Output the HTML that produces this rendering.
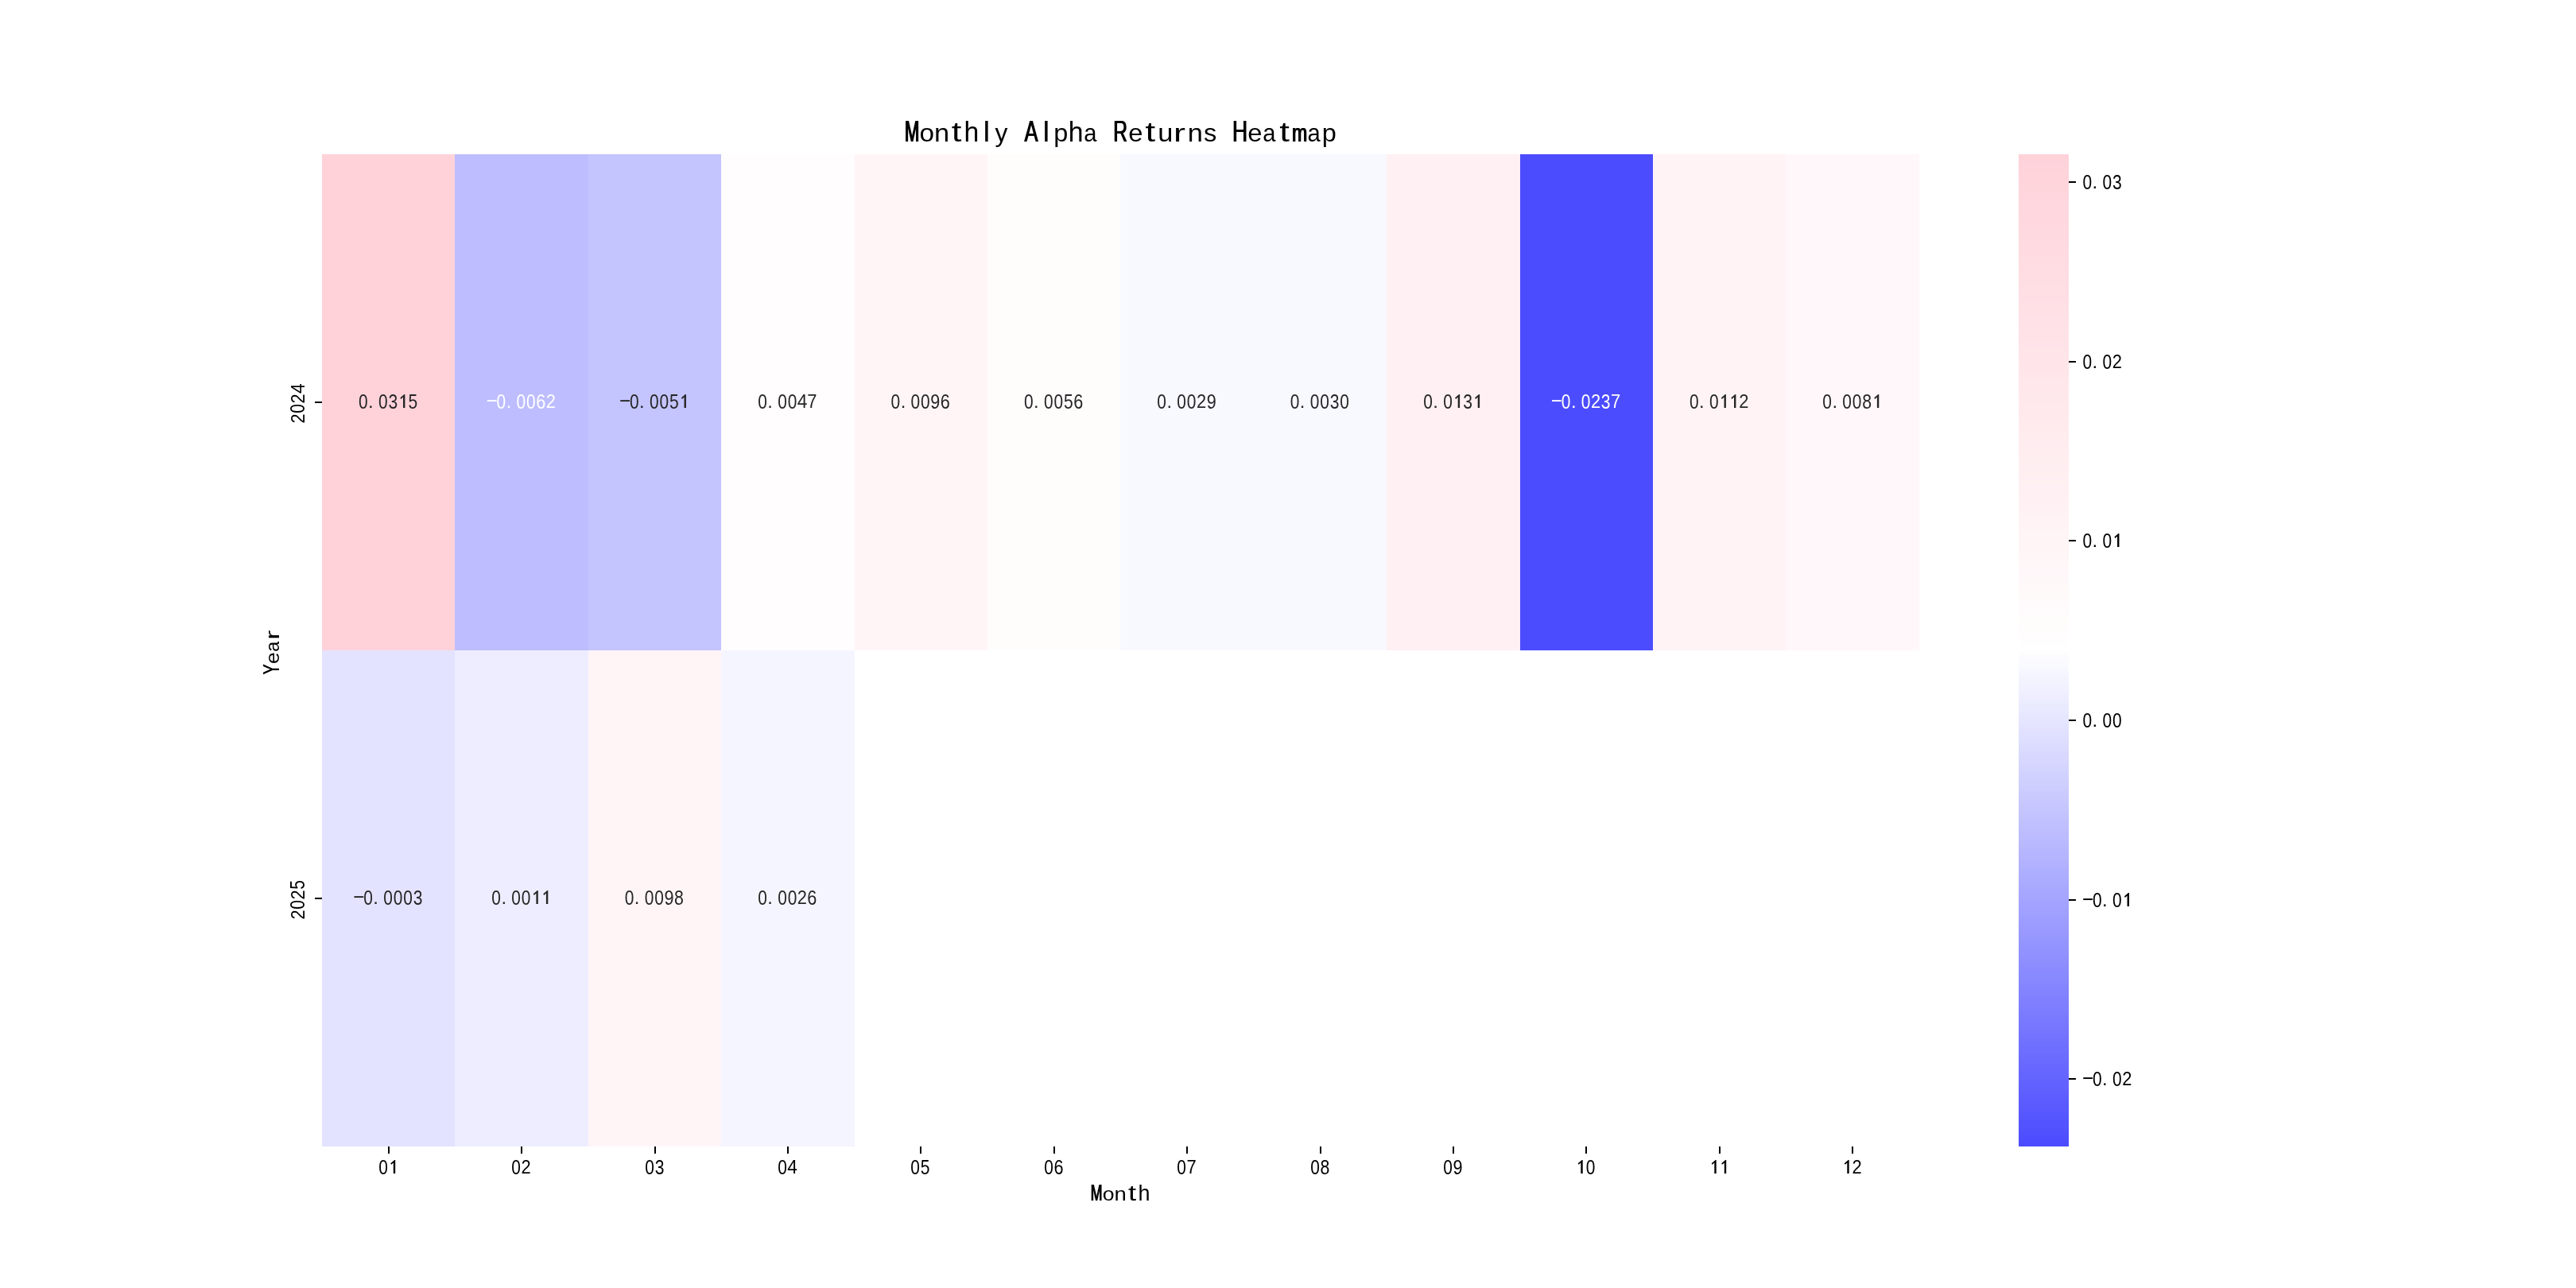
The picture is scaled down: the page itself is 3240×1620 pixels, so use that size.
<!DOCTYPE html>
<html><head><meta charset="utf-8"><title>Monthly Alpha Returns Heatmap</title>
<style>
html,body{margin:0;padding:0;background:#fff;}
body{width:3240px;height:1620px;overflow:hidden;}
svg{display:block;font-family:"Liberation Sans",sans-serif;will-change:transform;}
</style></head><body>
<svg width="3240" height="1620" viewBox="0 0 3240 1620">
<rect width="3240" height="1620" fill="#fff"/>
<rect x="405" y="194" width="167" height="624" fill="#ffd2da"/>
<rect x="572" y="194" width="168" height="624" fill="#bdbdff"/>
<rect x="740" y="194" width="167" height="624" fill="#c4c4ff"/>
<rect x="907" y="194" width="168" height="624" fill="#fffdfe"/>
<rect x="1075" y="194" width="167" height="624" fill="#fff5f7"/>
<rect x="1242" y="194" width="167" height="624" fill="#fffcfc"/>
<rect x="1409" y="194" width="168" height="624" fill="#f8f8ff"/>
<rect x="1577" y="194" width="167" height="624" fill="#f8f8ff"/>
<rect x="1744" y="194" width="168" height="624" fill="#fff0f3"/>
<rect x="1912" y="194" width="167" height="624" fill="#4c4cff"/>
<rect x="2079" y="194" width="167" height="624" fill="#fff3f5"/>
<rect x="2246" y="194" width="168" height="624" fill="#fff7f9"/>
<rect x="405" y="818" width="167" height="624" fill="#e3e3ff"/>
<rect x="572" y="818" width="168" height="624" fill="#ededff"/>
<rect x="740" y="818" width="167" height="624" fill="#fff5f7"/>
<rect x="907" y="818" width="168" height="624" fill="#f5f5ff"/>
<g shape-rendering="crispEdges"><rect x="2539" y="194" width="63" height="10" fill="#ffd2da"/><rect x="2539" y="204" width="63" height="10" fill="#ffd3db"/><rect x="2539" y="214" width="63" height="15" fill="#ffd4db"/><rect x="2539" y="229" width="63" height="4" fill="#ffd4dc"/><rect x="2539" y="233" width="63" height="5" fill="#ffd5dc"/><rect x="2539" y="238" width="63" height="5" fill="#ffd5dd"/><rect x="2539" y="243" width="63" height="10" fill="#ffd6dd"/><rect x="2539" y="253" width="63" height="19" fill="#ffd7de"/><rect x="2539" y="272" width="63" height="10" fill="#ffd8df"/><rect x="2539" y="282" width="63" height="5" fill="#ffd9df"/><rect x="2539" y="287" width="63" height="15" fill="#ffd9e0"/><rect x="2539" y="302" width="63" height="9" fill="#ffdae0"/><rect x="2539" y="311" width="63" height="10" fill="#ffdbe1"/><rect x="2539" y="321" width="63" height="10" fill="#ffdbe2"/><rect x="2539" y="331" width="63" height="10" fill="#ffdce2"/><rect x="2539" y="341" width="63" height="4" fill="#ffdde2"/><rect x="2539" y="345" width="63" height="5" fill="#ffdde3"/><rect x="2539" y="350" width="63" height="10" fill="#ffdee3"/><rect x="2539" y="360" width="63" height="10" fill="#ffdee4"/><rect x="2539" y="370" width="63" height="10" fill="#ffdfe5"/><rect x="2539" y="380" width="63" height="14" fill="#ffe0e5"/><rect x="2539" y="394" width="63" height="5" fill="#ffe0e6"/><rect x="2539" y="399" width="63" height="5" fill="#ffe1e6"/><rect x="2539" y="404" width="63" height="5" fill="#ffe1e7"/><rect x="2539" y="409" width="63" height="19" fill="#ffe2e7"/><rect x="2539" y="428" width="63" height="10" fill="#ffe3e8"/><rect x="2539" y="438" width="63" height="5" fill="#ffe4e8"/><rect x="2539" y="443" width="63" height="5" fill="#ffe4e9"/><rect x="2539" y="448" width="63" height="19" fill="#ffe5e9"/><rect x="2539" y="467" width="63" height="10" fill="#ffe6ea"/><rect x="2539" y="477" width="63" height="15" fill="#ffe7eb"/><rect x="2539" y="492" width="63" height="5" fill="#ffe7ec"/><rect x="2539" y="497" width="63" height="9" fill="#ffe8ec"/><rect x="2539" y="506" width="63" height="5" fill="#ffe9ec"/><rect x="2539" y="511" width="63" height="15" fill="#ffe9ed"/><rect x="2539" y="526" width="63" height="9" fill="#ffeaee"/><rect x="2539" y="535" width="63" height="10" fill="#ffebee"/><rect x="2539" y="545" width="63" height="5" fill="#ffecee"/><rect x="2539" y="550" width="63" height="10" fill="#ffecef"/><rect x="2539" y="560" width="63" height="5" fill="#ffecf0"/><rect x="2539" y="565" width="63" height="9" fill="#ffedf0"/><rect x="2539" y="574" width="63" height="10" fill="#ffeef0"/><rect x="2539" y="584" width="63" height="10" fill="#ffeef1"/><rect x="2539" y="594" width="63" height="5" fill="#ffeff1"/><rect x="2539" y="599" width="63" height="5" fill="#ffeff2"/><rect x="2539" y="604" width="63" height="5" fill="#fff0f2"/><rect x="2539" y="609" width="63" height="19" fill="#fff0f3"/><rect x="2539" y="628" width="63" height="5" fill="#fff1f3"/><rect x="2539" y="633" width="63" height="5" fill="#fff1f4"/><rect x="2539" y="638" width="63" height="5" fill="#fff2f4"/><rect x="2539" y="643" width="63" height="5" fill="#fff2f5"/><rect x="2539" y="648" width="63" height="19" fill="#fff3f5"/><rect x="2539" y="667" width="63" height="10" fill="#fff4f6"/><rect x="2539" y="677" width="63" height="5" fill="#fff5f6"/><rect x="2539" y="682" width="63" height="14" fill="#fff5f7"/><rect x="2539" y="696" width="63" height="10" fill="#fff6f7"/><rect x="2539" y="706" width="63" height="10" fill="#fff7f8"/><rect x="2539" y="716" width="63" height="10" fill="#fff7f9"/><rect x="2539" y="726" width="63" height="4" fill="#fff8f9"/><rect x="2539" y="730" width="63" height="5" fill="#fff8fa"/><rect x="2539" y="735" width="63" height="10" fill="#fff9fa"/><rect x="2539" y="745" width="63" height="10" fill="#fffafa"/><rect x="2539" y="755" width="63" height="10" fill="#fffafb"/><rect x="2539" y="765" width="63" height="9" fill="#fffbfc"/><rect x="2539" y="774" width="63" height="15" fill="#fffcfc"/><rect x="2539" y="789" width="63" height="5" fill="#fffcfd"/><rect x="2539" y="794" width="63" height="5" fill="#fffdfd"/><rect x="2539" y="799" width="63" height="4" fill="#fffdfe"/><rect x="2539" y="803" width="63" height="10" fill="#fffefe"/><rect x="2539" y="813" width="63" height="5" fill="#ffffff"/><rect x="2539" y="818" width="63" height="5" fill="#fefeff"/><rect x="2539" y="823" width="63" height="5" fill="#fcfcff"/><rect x="2539" y="828" width="63" height="5" fill="#fbfbff"/><rect x="2539" y="833" width="63" height="5" fill="#fafaff"/><rect x="2539" y="838" width="63" height="4" fill="#f8f8ff"/><rect x="2539" y="842" width="63" height="5" fill="#f7f7ff"/><rect x="2539" y="847" width="63" height="5" fill="#f5f5ff"/><rect x="2539" y="852" width="63" height="5" fill="#f4f4ff"/><rect x="2539" y="857" width="63" height="5" fill="#f3f3ff"/><rect x="2539" y="862" width="63" height="5" fill="#f1f1ff"/><rect x="2539" y="867" width="63" height="5" fill="#f0f0ff"/><rect x="2539" y="872" width="63" height="5" fill="#eeeeff"/><rect x="2539" y="877" width="63" height="4" fill="#ededff"/><rect x="2539" y="881" width="63" height="5" fill="#ececff"/><rect x="2539" y="886" width="63" height="5" fill="#eaeaff"/><rect x="2539" y="891" width="63" height="5" fill="#e9e9ff"/><rect x="2539" y="896" width="63" height="5" fill="#e7e7ff"/><rect x="2539" y="901" width="63" height="5" fill="#e6e6ff"/><rect x="2539" y="906" width="63" height="5" fill="#e5e5ff"/><rect x="2539" y="911" width="63" height="5" fill="#e3e3ff"/><rect x="2539" y="916" width="63" height="4" fill="#e2e2ff"/><rect x="2539" y="920" width="63" height="5" fill="#e0e0ff"/><rect x="2539" y="925" width="63" height="5" fill="#dfdfff"/><rect x="2539" y="930" width="63" height="5" fill="#dedeff"/><rect x="2539" y="935" width="63" height="5" fill="#dcdcff"/><rect x="2539" y="940" width="63" height="5" fill="#dbdbff"/><rect x="2539" y="945" width="63" height="5" fill="#d9d9ff"/><rect x="2539" y="950" width="63" height="5" fill="#d8d8ff"/><rect x="2539" y="955" width="63" height="4" fill="#d7d7ff"/><rect x="2539" y="959" width="63" height="5" fill="#d5d5ff"/><rect x="2539" y="964" width="63" height="5" fill="#d4d4ff"/><rect x="2539" y="969" width="63" height="5" fill="#d2d2ff"/><rect x="2539" y="974" width="63" height="5" fill="#d1d1ff"/><rect x="2539" y="979" width="63" height="5" fill="#d0d0ff"/><rect x="2539" y="984" width="63" height="5" fill="#ceceff"/><rect x="2539" y="989" width="63" height="5" fill="#cdcdff"/><rect x="2539" y="994" width="63" height="4" fill="#cbcbff"/><rect x="2539" y="998" width="63" height="5" fill="#cacaff"/><rect x="2539" y="1003" width="63" height="5" fill="#c9c9ff"/><rect x="2539" y="1008" width="63" height="5" fill="#c7c7ff"/><rect x="2539" y="1013" width="63" height="5" fill="#c6c6ff"/><rect x="2539" y="1018" width="63" height="5" fill="#c4c4ff"/><rect x="2539" y="1023" width="63" height="5" fill="#c3c3ff"/><rect x="2539" y="1028" width="63" height="4" fill="#c2c2ff"/><rect x="2539" y="1032" width="63" height="5" fill="#c0c0ff"/><rect x="2539" y="1037" width="63" height="5" fill="#bfbfff"/><rect x="2539" y="1042" width="63" height="5" fill="#bdbdff"/><rect x="2539" y="1047" width="63" height="5" fill="#bcbcff"/><rect x="2539" y="1052" width="63" height="5" fill="#bbbbff"/><rect x="2539" y="1057" width="63" height="5" fill="#b9b9ff"/><rect x="2539" y="1062" width="63" height="5" fill="#b8b8ff"/><rect x="2539" y="1067" width="63" height="4" fill="#b6b6ff"/><rect x="2539" y="1071" width="63" height="5" fill="#b5b5ff"/><rect x="2539" y="1076" width="63" height="5" fill="#b4b4ff"/><rect x="2539" y="1081" width="63" height="5" fill="#b2b2ff"/><rect x="2539" y="1086" width="63" height="5" fill="#b1b1ff"/><rect x="2539" y="1091" width="63" height="5" fill="#afafff"/><rect x="2539" y="1096" width="63" height="5" fill="#aeaeff"/><rect x="2539" y="1101" width="63" height="5" fill="#adadff"/><rect x="2539" y="1106" width="63" height="4" fill="#ababff"/><rect x="2539" y="1110" width="63" height="5" fill="#aaaaff"/><rect x="2539" y="1115" width="63" height="5" fill="#a8a8ff"/><rect x="2539" y="1120" width="63" height="5" fill="#a7a7ff"/><rect x="2539" y="1125" width="63" height="5" fill="#a6a6ff"/><rect x="2539" y="1130" width="63" height="5" fill="#a4a4ff"/><rect x="2539" y="1135" width="63" height="5" fill="#a3a3ff"/><rect x="2539" y="1140" width="63" height="5" fill="#a1a1ff"/><rect x="2539" y="1145" width="63" height="4" fill="#a0a0ff"/><rect x="2539" y="1149" width="63" height="5" fill="#9f9fff"/><rect x="2539" y="1154" width="63" height="5" fill="#9d9dff"/><rect x="2539" y="1159" width="63" height="5" fill="#9c9cff"/><rect x="2539" y="1164" width="63" height="5" fill="#9a9aff"/><rect x="2539" y="1169" width="63" height="5" fill="#9999ff"/><rect x="2539" y="1174" width="63" height="5" fill="#9898ff"/><rect x="2539" y="1179" width="63" height="5" fill="#9696ff"/><rect x="2539" y="1184" width="63" height="4" fill="#9595ff"/><rect x="2539" y="1188" width="63" height="5" fill="#9393ff"/><rect x="2539" y="1193" width="63" height="5" fill="#9292ff"/><rect x="2539" y="1198" width="63" height="5" fill="#9191ff"/><rect x="2539" y="1203" width="63" height="5" fill="#8f8fff"/><rect x="2539" y="1208" width="63" height="5" fill="#8e8eff"/><rect x="2539" y="1213" width="63" height="5" fill="#8c8cff"/><rect x="2539" y="1218" width="63" height="5" fill="#8b8bff"/><rect x="2539" y="1223" width="63" height="4" fill="#8a8aff"/><rect x="2539" y="1227" width="63" height="5" fill="#8888ff"/><rect x="2539" y="1232" width="63" height="5" fill="#8787ff"/><rect x="2539" y="1237" width="63" height="5" fill="#8585ff"/><rect x="2539" y="1242" width="63" height="5" fill="#8484ff"/><rect x="2539" y="1247" width="63" height="5" fill="#8383ff"/><rect x="2539" y="1252" width="63" height="5" fill="#8181ff"/><rect x="2539" y="1257" width="63" height="5" fill="#8080ff"/><rect x="2539" y="1262" width="63" height="4" fill="#7e7eff"/><rect x="2539" y="1266" width="63" height="5" fill="#7d7dff"/><rect x="2539" y="1271" width="63" height="5" fill="#7c7cff"/><rect x="2539" y="1276" width="63" height="5" fill="#7a7aff"/><rect x="2539" y="1281" width="63" height="5" fill="#7979ff"/><rect x="2539" y="1286" width="63" height="5" fill="#7777ff"/><rect x="2539" y="1291" width="63" height="5" fill="#7676ff"/><rect x="2539" y="1296" width="63" height="4" fill="#7575ff"/><rect x="2539" y="1300" width="63" height="5" fill="#7373ff"/><rect x="2539" y="1305" width="63" height="5" fill="#7272ff"/><rect x="2539" y="1310" width="63" height="5" fill="#7070ff"/><rect x="2539" y="1315" width="63" height="5" fill="#6f6fff"/><rect x="2539" y="1320" width="63" height="5" fill="#6e6eff"/><rect x="2539" y="1325" width="63" height="5" fill="#6c6cff"/><rect x="2539" y="1330" width="63" height="5" fill="#6b6bff"/><rect x="2539" y="1335" width="63" height="4" fill="#6969ff"/><rect x="2539" y="1339" width="63" height="5" fill="#6868ff"/><rect x="2539" y="1344" width="63" height="5" fill="#6767ff"/><rect x="2539" y="1349" width="63" height="5" fill="#6565ff"/><rect x="2539" y="1354" width="63" height="5" fill="#6464ff"/><rect x="2539" y="1359" width="63" height="5" fill="#6262ff"/><rect x="2539" y="1364" width="63" height="5" fill="#6161ff"/><rect x="2539" y="1369" width="63" height="5" fill="#6060ff"/><rect x="2539" y="1374" width="63" height="4" fill="#5e5eff"/><rect x="2539" y="1378" width="63" height="5" fill="#5d5dff"/><rect x="2539" y="1383" width="63" height="5" fill="#5b5bff"/><rect x="2539" y="1388" width="63" height="5" fill="#5a5aff"/><rect x="2539" y="1393" width="63" height="5" fill="#5959ff"/><rect x="2539" y="1398" width="63" height="5" fill="#5757ff"/><rect x="2539" y="1403" width="63" height="5" fill="#5656ff"/><rect x="2539" y="1408" width="63" height="5" fill="#5454ff"/><rect x="2539" y="1413" width="63" height="4" fill="#5353ff"/><rect x="2539" y="1417" width="63" height="5" fill="#5252ff"/><rect x="2539" y="1422" width="63" height="5" fill="#5050ff"/><rect x="2539" y="1427" width="63" height="5" fill="#4f4fff"/><rect x="2539" y="1432" width="63" height="5" fill="#4d4dff"/><rect x="2539" y="1437" width="63" height="5" fill="#4c4cff"/></g>
<g fill="#000" shape-rendering="crispEdges"><rect x="488" y="1442" width="2" height="9"/><rect x="655" y="1442" width="2" height="9"/><rect x="823" y="1442" width="2" height="9"/><rect x="990" y="1442" width="2" height="9"/><rect x="1157" y="1442" width="2" height="9"/><rect x="1325" y="1442" width="2" height="9"/><rect x="1492" y="1442" width="2" height="9"/><rect x="1660" y="1442" width="2" height="9"/><rect x="1827" y="1442" width="2" height="9"/><rect x="1994" y="1442" width="2" height="9"/><rect x="2162" y="1442" width="2" height="9"/><rect x="2329" y="1442" width="2" height="9"/><rect x="396" y="505" width="9" height="2"/><rect x="396" y="1129" width="9" height="2"/><rect x="2602" y="228" width="9" height="2"/><rect x="2602" y="454" width="9" height="2"/><rect x="2602" y="679" width="9" height="2"/><rect x="2602" y="905" width="9" height="2"/><rect x="2602" y="1131" width="9" height="2"/><rect x="2602" y="1356" width="9" height="2"/></g>
<g fill="#262626" font-size="25.0"><text transform="translate(450.93 513.79) scale(0.8368 1.0252)">0</text><text transform="translate(463.03 513.00) scale(0.9500 0.9500)">.</text><text transform="translate(475.93 513.79) scale(0.8368 1.0252)">0</text><text transform="translate(488.45 513.79) scale(0.8437 1.0252)">3</text><path d="M509.40 496.10 L509.40 513.00 L507.00 513.00 L507.00 499.50 L504.40 501.90 L503.50 500.85 L503.70 500.00 L508.40 496.10 Z"/><text transform="translate(513.41 513.79) scale(0.8437 1.0259)">5</text></g>
<g fill="#ffffff" font-size="25.0"><rect x="612.85" y="503.15" width="11.75" height="1.90"/><text transform="translate(624.58 513.79) scale(0.8368 1.0252)">0</text><text transform="translate(636.68 513.00) scale(0.9500 0.9500)">.</text><text transform="translate(649.58 513.79) scale(0.8368 1.0252)">0</text><text transform="translate(662.08 513.79) scale(0.8368 1.0252)">0</text><text transform="translate(674.30 513.79) scale(0.8669 1.0252)">6</text><text transform="translate(686.80 513.00) scale(0.8780 0.9800)">2</text></g>
<g fill="#262626" font-size="25.0"><rect x="780.25" y="503.15" width="11.75" height="1.90"/><text transform="translate(791.98 513.79) scale(0.8368 1.0252)">0</text><text transform="translate(804.08 513.00) scale(0.9500 0.9500)">.</text><text transform="translate(816.98 513.79) scale(0.8368 1.0252)">0</text><text transform="translate(829.48 513.79) scale(0.8368 1.0252)">0</text><text transform="translate(841.96 513.79) scale(0.8437 1.0259)">5</text><path d="M862.95 496.10 L862.95 513.00 L860.55 513.00 L860.55 499.50 L857.95 501.90 L857.05 500.85 L857.25 500.00 L861.95 496.10 Z"/></g>
<g fill="#262626" font-size="25.0"><text transform="translate(953.13 513.79) scale(0.8368 1.0252)">0</text><text transform="translate(965.23 513.00) scale(0.9500 0.9500)">.</text><text transform="translate(978.13 513.79) scale(0.8368 1.0252)">0</text><text transform="translate(990.63 513.79) scale(0.8368 1.0252)">0</text><text transform="translate(1002.68 513.00) scale(0.9129 0.9800)">4</text><text transform="translate(1015.32 513.00) scale(0.8799 0.9800)">7</text></g>
<g fill="#262626" font-size="25.0"><text transform="translate(1120.53 513.79) scale(0.8368 1.0252)">0</text><text transform="translate(1132.63 513.00) scale(0.9500 0.9500)">.</text><text transform="translate(1145.53 513.79) scale(0.8368 1.0252)">0</text><text transform="translate(1158.03 513.79) scale(0.8368 1.0252)">0</text><text transform="translate(1170.34 513.79) scale(0.8660 1.0252)">9</text><text transform="translate(1182.75 513.79) scale(0.8669 1.0252)">6</text></g>
<g fill="#262626" font-size="25.0"><text transform="translate(1287.93 513.79) scale(0.8368 1.0252)">0</text><text transform="translate(1300.03 513.00) scale(0.9500 0.9500)">.</text><text transform="translate(1312.93 513.79) scale(0.8368 1.0252)">0</text><text transform="translate(1325.43 513.79) scale(0.8368 1.0252)">0</text><text transform="translate(1337.91 513.79) scale(0.8437 1.0259)">5</text><text transform="translate(1350.15 513.79) scale(0.8669 1.0252)">6</text></g>
<g fill="#262626" font-size="25.0"><text transform="translate(1455.33 513.79) scale(0.8368 1.0252)">0</text><text transform="translate(1467.43 513.00) scale(0.9500 0.9500)">.</text><text transform="translate(1480.33 513.79) scale(0.8368 1.0252)">0</text><text transform="translate(1492.83 513.79) scale(0.8368 1.0252)">0</text><text transform="translate(1505.05 513.00) scale(0.8780 0.9800)">2</text><text transform="translate(1517.64 513.79) scale(0.8660 1.0252)">9</text></g>
<g fill="#262626" font-size="25.0"><text transform="translate(1622.73 513.79) scale(0.8368 1.0252)">0</text><text transform="translate(1634.83 513.00) scale(0.9500 0.9500)">.</text><text transform="translate(1647.73 513.79) scale(0.8368 1.0252)">0</text><text transform="translate(1660.23 513.79) scale(0.8368 1.0252)">0</text><text transform="translate(1672.75 513.79) scale(0.8437 1.0252)">3</text><text transform="translate(1685.23 513.79) scale(0.8368 1.0252)">0</text></g>
<g fill="#262626" font-size="25.0"><text transform="translate(1790.13 513.79) scale(0.8368 1.0252)">0</text><text transform="translate(1802.23 513.00) scale(0.9500 0.9500)">.</text><text transform="translate(1815.13 513.79) scale(0.8368 1.0252)">0</text><path d="M1836.10 496.10 L1836.10 513.00 L1833.70 513.00 L1833.70 499.50 L1831.10 501.90 L1830.20 500.85 L1830.40 500.00 L1835.10 496.10 Z"/><text transform="translate(1840.15 513.79) scale(0.8437 1.0252)">3</text><path d="M1861.10 496.10 L1861.10 513.00 L1858.70 513.00 L1858.70 499.50 L1856.10 501.90 L1855.20 500.85 L1855.40 500.00 L1860.10 496.10 Z"/></g>
<g fill="#ffffff" font-size="25.0"><rect x="1952.05" y="503.15" width="11.75" height="1.90"/><text transform="translate(1963.78 513.79) scale(0.8368 1.0252)">0</text><text transform="translate(1975.88 513.00) scale(0.9500 0.9500)">.</text><text transform="translate(1988.78 513.79) scale(0.8368 1.0252)">0</text><text transform="translate(2001.00 513.00) scale(0.8780 0.9800)">2</text><text transform="translate(2013.80 513.79) scale(0.8437 1.0252)">3</text><text transform="translate(2025.97 513.00) scale(0.8799 0.9800)">7</text></g>
<g fill="#262626" font-size="25.0"><text transform="translate(2124.93 513.79) scale(0.8368 1.0252)">0</text><text transform="translate(2137.03 513.00) scale(0.9500 0.9500)">.</text><text transform="translate(2149.93 513.79) scale(0.8368 1.0252)">0</text><path d="M2170.90 496.10 L2170.90 513.00 L2168.50 513.00 L2168.50 499.50 L2165.90 501.90 L2165.00 500.85 L2165.20 500.00 L2169.90 496.10 Z"/><path d="M2183.40 496.10 L2183.40 513.00 L2181.00 513.00 L2181.00 499.50 L2178.40 501.90 L2177.50 500.85 L2177.70 500.00 L2182.40 496.10 Z"/><text transform="translate(2187.15 513.00) scale(0.8780 0.9800)">2</text></g>
<g fill="#262626" font-size="25.0"><text transform="translate(2292.33 513.79) scale(0.8368 1.0252)">0</text><text transform="translate(2304.43 513.00) scale(0.9500 0.9500)">.</text><text transform="translate(2317.33 513.79) scale(0.8368 1.0252)">0</text><text transform="translate(2329.83 513.79) scale(0.8368 1.0252)">0</text><text transform="translate(2342.22 513.79) scale(0.8524 1.0252)">8</text><path d="M2363.30 496.10 L2363.30 513.00 L2360.90 513.00 L2360.90 499.50 L2358.30 501.90 L2357.40 500.85 L2357.60 500.00 L2362.30 496.10 Z"/></g>
<g fill="#262626" font-size="25.0"><rect x="445.45" y="1127.15" width="11.75" height="1.90"/><text transform="translate(457.18 1137.79) scale(0.8368 1.0252)">0</text><text transform="translate(469.28 1137.00) scale(0.9500 0.9500)">.</text><text transform="translate(482.18 1137.79) scale(0.8368 1.0252)">0</text><text transform="translate(494.68 1137.79) scale(0.8368 1.0252)">0</text><text transform="translate(507.18 1137.79) scale(0.8368 1.0252)">0</text><text transform="translate(519.70 1137.79) scale(0.8437 1.0252)">3</text></g>
<g fill="#262626" font-size="25.0"><text transform="translate(618.33 1137.79) scale(0.8368 1.0252)">0</text><text transform="translate(630.43 1137.00) scale(0.9500 0.9500)">.</text><text transform="translate(643.33 1137.79) scale(0.8368 1.0252)">0</text><text transform="translate(655.83 1137.79) scale(0.8368 1.0252)">0</text><path d="M676.80 1120.10 L676.80 1137.00 L674.40 1137.00 L674.40 1123.50 L671.80 1125.90 L670.90 1124.85 L671.10 1124.00 L675.80 1120.10 Z"/><path d="M689.30 1120.10 L689.30 1137.00 L686.90 1137.00 L686.90 1123.50 L684.30 1125.90 L683.40 1124.85 L683.60 1124.00 L688.30 1120.10 Z"/></g>
<g fill="#262626" font-size="25.0"><text transform="translate(785.73 1137.79) scale(0.8368 1.0252)">0</text><text transform="translate(797.83 1137.00) scale(0.9500 0.9500)">.</text><text transform="translate(810.73 1137.79) scale(0.8368 1.0252)">0</text><text transform="translate(823.23 1137.79) scale(0.8368 1.0252)">0</text><text transform="translate(835.54 1137.79) scale(0.8660 1.0252)">9</text><text transform="translate(848.12 1137.79) scale(0.8524 1.0252)">8</text></g>
<g fill="#262626" font-size="25.0"><text transform="translate(953.13 1137.79) scale(0.8368 1.0252)">0</text><text transform="translate(965.23 1137.00) scale(0.9500 0.9500)">.</text><text transform="translate(978.13 1137.79) scale(0.8368 1.0252)">0</text><text transform="translate(990.63 1137.79) scale(0.8368 1.0252)">0</text><text transform="translate(1002.85 1137.00) scale(0.8780 0.9800)">2</text><text transform="translate(1015.35 1137.79) scale(0.8669 1.0252)">6</text></g>
<g fill="#000" font-size="25.0"><text transform="translate(476.23 1476.69) scale(0.8368 1.0252)">0</text><path d="M497.20 1459.00 L497.20 1475.90 L494.80 1475.90 L494.80 1462.40 L492.20 1464.80 L491.30 1463.75 L491.50 1462.90 L496.20 1459.00 Z"/></g>
<g fill="#000" font-size="25.0"><text transform="translate(643.23 1476.69) scale(0.8368 1.0252)">0</text><text transform="translate(655.45 1475.90) scale(0.8780 0.9800)">2</text></g>
<g fill="#000" font-size="25.0"><text transform="translate(811.23 1476.69) scale(0.8368 1.0252)">0</text><text transform="translate(823.75 1476.69) scale(0.8437 1.0252)">3</text></g>
<g fill="#000" font-size="25.0"><text transform="translate(978.23 1476.69) scale(0.8368 1.0252)">0</text><text transform="translate(990.28 1475.90) scale(0.9129 0.9800)">4</text></g>
<g fill="#000" font-size="25.0"><text transform="translate(1145.23 1476.69) scale(0.8368 1.0252)">0</text><text transform="translate(1157.71 1476.69) scale(0.8437 1.0259)">5</text></g>
<g fill="#000" font-size="25.0"><text transform="translate(1313.23 1476.69) scale(0.8368 1.0252)">0</text><text transform="translate(1325.45 1476.69) scale(0.8669 1.0252)">6</text></g>
<g fill="#000" font-size="25.0"><text transform="translate(1480.23 1476.69) scale(0.8368 1.0252)">0</text><text transform="translate(1492.42 1475.90) scale(0.8799 0.9800)">7</text></g>
<g fill="#000" font-size="25.0"><text transform="translate(1648.23 1476.69) scale(0.8368 1.0252)">0</text><text transform="translate(1660.62 1476.69) scale(0.8524 1.0252)">8</text></g>
<g fill="#000" font-size="25.0"><text transform="translate(1815.23 1476.69) scale(0.8368 1.0252)">0</text><text transform="translate(1827.54 1476.69) scale(0.8660 1.0252)">9</text></g>
<g fill="#000" font-size="25.0"><path d="M1990.70 1459.00 L1990.70 1475.90 L1988.30 1475.90 L1988.30 1462.40 L1985.70 1464.80 L1984.80 1463.75 L1985.00 1462.90 L1989.70 1459.00 Z"/><text transform="translate(1994.73 1476.69) scale(0.8368 1.0252)">0</text></g>
<g fill="#000" font-size="25.0"><path d="M2158.70 1459.00 L2158.70 1475.90 L2156.30 1475.90 L2156.30 1462.40 L2153.70 1464.80 L2152.80 1463.75 L2153.00 1462.90 L2157.70 1459.00 Z"/><path d="M2171.20 1459.00 L2171.20 1475.90 L2168.80 1475.90 L2168.80 1462.40 L2166.20 1464.80 L2165.30 1463.75 L2165.50 1462.90 L2170.20 1459.00 Z"/></g>
<g fill="#000" font-size="25.0"><path d="M2325.70 1459.00 L2325.70 1475.90 L2323.30 1475.90 L2323.30 1462.40 L2320.70 1464.80 L2319.80 1463.75 L2320.00 1462.90 L2324.70 1459.00 Z"/><text transform="translate(2329.45 1475.90) scale(0.8780 0.9800)">2</text></g>
<g transform="translate(382.7 506.90) rotate(-90)"><g fill="#000" font-size="25.0"><text transform="translate(-25.55 0.00) scale(0.8780 0.9800)">2</text><text transform="translate(-12.77 0.79) scale(0.8368 1.0252)">0</text><text transform="translate(-0.55 0.00) scale(0.8780 0.9800)">2</text><text transform="translate(11.78 0.00) scale(0.9129 0.9800)">4</text></g></g>
<g transform="translate(382.7 1130.90) rotate(-90)"><g fill="#000" font-size="25.0"><text transform="translate(-25.55 0.00) scale(0.8780 0.9800)">2</text><text transform="translate(-12.77 0.79) scale(0.8368 1.0252)">0</text><text transform="translate(-0.55 0.00) scale(0.8780 0.9800)">2</text><text transform="translate(12.21 0.79) scale(0.8437 1.0259)">5</text></g></g>
<g fill="#000" font-size="25.0"><text transform="translate(2619.48 237.79) scale(0.8368 1.0252)">0</text><text transform="translate(2631.58 237.00) scale(0.9500 0.9500)">.</text><text transform="translate(2644.48 237.79) scale(0.8368 1.0252)">0</text><text transform="translate(2657.00 237.79) scale(0.8437 1.0252)">3</text></g>
<g fill="#000" font-size="25.0"><text transform="translate(2619.48 463.79) scale(0.8368 1.0252)">0</text><text transform="translate(2631.58 463.00) scale(0.9500 0.9500)">.</text><text transform="translate(2644.48 463.79) scale(0.8368 1.0252)">0</text><text transform="translate(2656.70 463.00) scale(0.8780 0.9800)">2</text></g>
<g fill="#000" font-size="25.0"><text transform="translate(2619.48 688.79) scale(0.8368 1.0252)">0</text><text transform="translate(2631.58 688.00) scale(0.9500 0.9500)">.</text><text transform="translate(2644.48 688.79) scale(0.8368 1.0252)">0</text><path d="M2665.45 671.10 L2665.45 688.00 L2663.05 688.00 L2663.05 674.50 L2660.45 676.90 L2659.55 675.85 L2659.75 675.00 L2664.45 671.10 Z"/></g>
<g fill="#000" font-size="25.0"><text transform="translate(2619.48 914.79) scale(0.8368 1.0252)">0</text><text transform="translate(2631.58 914.00) scale(0.9500 0.9500)">.</text><text transform="translate(2644.48 914.79) scale(0.8368 1.0252)">0</text><text transform="translate(2656.98 914.79) scale(0.8368 1.0252)">0</text></g>
<g fill="#000" font-size="25.0"><rect x="2620.25" y="1130.15" width="11.75" height="1.90"/><text transform="translate(2631.98 1140.79) scale(0.8368 1.0252)">0</text><text transform="translate(2644.08 1140.00) scale(0.9500 0.9500)">.</text><text transform="translate(2656.98 1140.79) scale(0.8368 1.0252)">0</text><path d="M2677.95 1123.10 L2677.95 1140.00 L2675.55 1140.00 L2675.55 1126.50 L2672.95 1128.90 L2672.05 1127.85 L2672.25 1127.00 L2676.95 1123.10 Z"/></g>
<g fill="#000" font-size="25.0"><rect x="2620.25" y="1355.15" width="11.75" height="1.90"/><text transform="translate(2631.98 1365.79) scale(0.8368 1.0252)">0</text><text transform="translate(2644.08 1365.00) scale(0.9500 0.9500)">.</text><text transform="translate(2656.98 1365.79) scale(0.8368 1.0252)">0</text><text transform="translate(2669.20 1365.00) scale(0.8780 0.9800)">2</text></g>
<g fill="#000" font-size="37.5"><text transform="translate(1137.20 178.00) scale(0.5908 1.0000)">M</text><text transform="translate(1138.50 178.00) scale(0.5908 1.0000)">M</text><text transform="translate(1156.55 178.00) scale(0.8895 0.8200)">o</text><text transform="translate(1174.98 178.00) scale(0.9181 0.8200)">n</text><text transform="translate(1196.82 178.00) scale(1.2139 0.9440)">t</text><text transform="translate(1212.61 178.00) scale(0.9007 0.9520)">h</text><text transform="translate(1236.44 178.00) scale(1.0500 0.9520)">l</text><text transform="translate(1251.62 178.00) scale(0.8474 0.8200)">y</text><text transform="translate(1288.02 178.00) scale(0.6833 1.0000)">A</text><text transform="translate(1289.03 178.00) scale(0.6833 1.0000)">A</text><text transform="translate(1311.44 178.00) scale(1.0500 0.9520)">l</text><text transform="translate(1325.17 178.00) scale(0.8672 0.8200)">p</text><text transform="translate(1343.86 178.00) scale(0.9007 0.9520)">h</text><text transform="translate(1363.33 178.00) scale(0.7787 0.8200)">a</text><text transform="translate(1399.67 178.00) scale(0.6585 1.0000)">R</text><text transform="translate(1400.76 178.00) scale(0.6585 1.0000)">R</text><text transform="translate(1419.25 178.00) scale(0.8738 0.8200)">e</text><text transform="translate(1440.57 178.00) scale(1.2139 0.9440)">t</text><text transform="translate(1456.28 178.00) scale(0.9181 0.8200)">u</text><text transform="translate(1475.96 178.00) scale(1.2000 0.8200)">r</text><text transform="translate(1493.73 178.00) scale(0.9181 0.8200)">n</text><text transform="translate(1514.04 178.00) scale(0.8715 0.8200)">s</text><text transform="translate(1549.52 178.00) scale(0.7074 1.0000)">H</text><text transform="translate(1550.46 178.00) scale(0.7074 1.0000)">H</text><text transform="translate(1569.25 178.00) scale(0.8738 0.8200)">e</text><text transform="translate(1588.33 178.00) scale(0.7787 0.8200)">a</text><text transform="translate(1609.32 178.00) scale(1.2139 0.9440)">t</text><text transform="translate(1624.43 178.00) scale(0.6091 0.8200)">m</text><text transform="translate(1625.68 178.00) scale(0.6091 0.8200)">m</text><text transform="translate(1644.58 178.00) scale(0.7787 0.8200)">a</text><text transform="translate(1662.67 178.00) scale(0.8672 0.8200)">p</text></g>
<g fill="#000" font-size="30.0"><text transform="translate(1371.20 1509.90) scale(0.5908 1.0000)">M</text><text transform="translate(1372.24 1509.90) scale(0.5908 1.0000)">M</text><text transform="translate(1386.68 1509.90) scale(0.8895 0.8200)">o</text><text transform="translate(1401.42 1509.90) scale(0.9181 0.8200)">n</text><text transform="translate(1418.90 1509.90) scale(1.2139 0.9440)">t</text><text transform="translate(1431.53 1509.90) scale(0.9007 0.9520)">h</text></g>
<g transform="translate(351.0 820.3) rotate(-90)"><g fill="#000" font-size="30.0"><text transform="translate(-28.49 0.00) scale(0.6631 0.9700)">Y</text><text transform="translate(-27.98 0.00) scale(0.6631 0.9700)">Y</text><text transform="translate(-14.76 0.00) scale(0.8738 0.8200)">e</text><text transform="translate(0.51 0.00) scale(0.7787 0.8200)">a</text><text transform="translate(15.61 0.00) scale(1.2000 0.8200)">r</text></g></g>
</svg>
</body></html>
